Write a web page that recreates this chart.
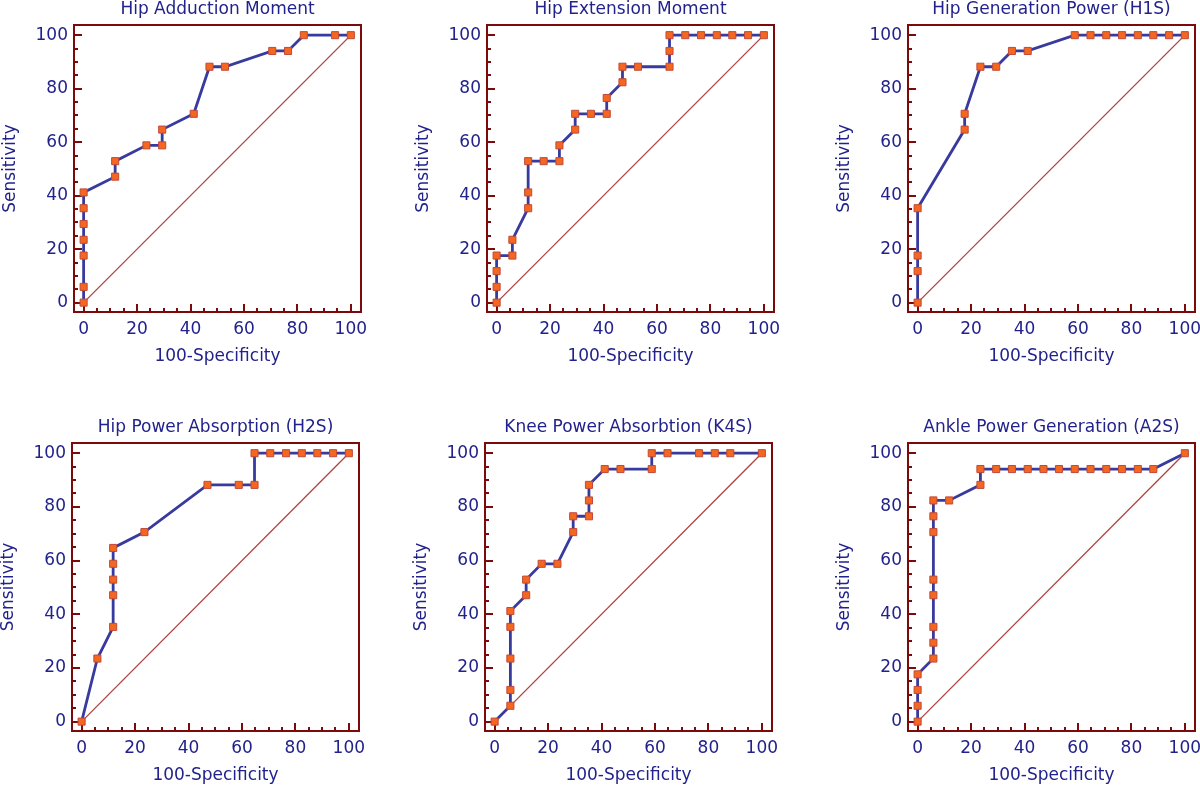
<!DOCTYPE html>
<html>
<head>
<meta charset="utf-8">
<script src="https://cdn.jsdelivr.net/npm/chart.js@4.4.0/dist/chart.umd.min.js"></script>
<style>
  html, body { margin: 0; padding: 0; background: #fff; overflow: hidden; width: 1200px; height: 787px; }
  .panel { position: absolute; }
</style>
</head>
<body>
<div id="wrap"></div>
<script>
// --- data (values in %, steps of 1/17) ---
const tickValues = [0, 20, 40, 60, 80, 100];
const diagonalX = [0, 100];
const diagonalY = [0, 100];

const titles = [
  'Hip Adduction Moment',
  'Hip Extension Moment',
  'Hip Generation Power (H1S)',
  'Hip Power Absorption (H2S)',
  'Knee Power Absorbtion (K4S)',
  'Ankle Power Generation (A2S)'
];

const adductionX = [0, 0, 0, 0, 0, 0, 0, 11.8, 11.8, 23.5, 29.4, 29.4, 41.2, 47.1, 52.9, 70.6, 76.5, 82.4, 94.1, 100];
const adductionY = [0, 5.9, 17.6, 23.5, 29.4, 35.3, 41.2, 47.1, 52.9, 58.8, 58.8, 64.7, 70.6, 88.2, 88.2, 94.1, 94.1, 100, 100, 100];

const extensionX = [0, 0, 0, 0, 5.9, 5.9, 11.8, 11.8, 11.8, 17.6, 23.5, 23.5, 29.4, 29.4, 35.3, 41.2, 41.2, 47.1, 47.1, 52.9, 64.7, 64.7, 64.7, 70.6, 76.5, 82.4, 88.2, 94.1, 100];
const extensionY = [0, 5.9, 11.8, 17.6, 17.6, 23.5, 35.3, 41.2, 52.9, 52.9, 52.9, 58.8, 64.7, 70.6, 70.6, 70.6, 76.5, 82.4, 88.2, 88.2, 88.2, 94.1, 100, 100, 100, 100, 100, 100, 100];

const h1sX = [0, 0, 0, 0, 17.6, 17.6, 23.5, 29.4, 35.3, 41.2, 58.8, 64.7, 70.6, 76.5, 82.4, 88.2, 94.1, 100];
const h1sY = [0, 11.8, 17.6, 35.3, 64.7, 70.6, 88.2, 88.2, 94.1, 94.1, 100, 100, 100, 100, 100, 100, 100, 100];

const h2sX = [0, 5.9, 11.8, 11.8, 11.8, 11.8, 11.8, 23.5, 47.1, 58.8, 64.7, 64.7, 70.6, 76.5, 82.4, 88.2, 94.1, 100];
const h2sY = [0, 23.5, 35.3, 47.1, 52.9, 58.8, 64.7, 70.6, 88.2, 88.2, 88.2, 100, 100, 100, 100, 100, 100, 100];

const k4sX = [0, 5.9, 5.9, 5.9, 5.9, 5.9, 11.8, 11.8, 17.6, 23.5, 29.4, 29.4, 35.3, 35.3, 35.3, 41.2, 47.1, 58.8, 58.8, 64.7, 76.5, 82.4, 88.2, 100];
const k4sY = [0, 5.9, 11.8, 23.5, 35.3, 41.2, 47.1, 52.9, 58.8, 58.8, 70.6, 76.5, 76.5, 82.4, 88.2, 94.1, 94.1, 94.1, 100, 100, 100, 100, 100, 100];

const a2sX = [0, 0, 0, 0, 5.9, 5.9, 5.9, 5.9, 5.9, 5.9, 5.9, 5.9, 11.8, 23.5, 23.5, 29.4, 35.3, 41.2, 47.1, 52.9, 58.8, 64.7, 70.6, 76.5, 82.4, 88.2, 100];
const a2sY = [0, 5.9, 11.8, 17.6, 23.5, 29.4, 35.3, 47.1, 52.9, 70.6, 76.5, 82.4, 82.4, 88.2, 94.1, 94.1, 94.1, 94.1, 94.1, 94.1, 94.1, 94.1, 94.1, 94.1, 94.1, 94.1, 100];

const seriesX = [adductionX, extensionX, h1sX, h2sX, k4sX, a2sX];
const seriesY = [adductionY, extensionY, h1sY, h2sY, k4sY, a2sY];

// --- layout / style ---
const TEXT = '#22228c';
const LINE = '#383a9e';
const FRAME = '#7d0a0a';
const DIAG = '#b04040';
const FONT = 'DejaVu Sans';
const boxLefts = [74, 487, 908, 72, 485, 908];
const rowTops = [0, 418];
const boxSize = [287, 288];
const AXIS_W = 74;
const TITLE_H = 25;
const XAXIS_H = 55;

function toPoints(xs, ys) {
  return xs.map((v, i) => ({ x: v, y: ys[i] }));
}

// box + inward tick marks
const framePlugin = {
  id: 'frame',
  beforeDatasetsDraw(chart) {
    const { ctx, chartArea: a, scales: { x, y } } = chart;
    ctx.save();
    ctx.strokeStyle = FRAME;
    ctx.lineWidth = 2;
    ctx.beginPath();
    for (let v = 0; v <= 100; v += 5) {
      const len = v % 20 === 0 ? 8 : 4;
      const px = Math.round(x.getPixelForValue(v));
      ctx.moveTo(px, a.bottom);
      ctx.lineTo(px, a.bottom - len);
      const py = Math.round(y.getPixelForValue(v));
      ctx.moveTo(a.left, py);
      ctx.lineTo(a.left + len, py);
    }
    ctx.stroke();
    ctx.strokeRect(a.left, a.top, a.right - a.left, a.bottom - a.top);
    ctx.restore();
  }
};

function fixedTicks(scale) {
  scale.ticks = tickValues.map(v => ({ value: v }));
}

const wrap = document.getElementById('wrap');

titles.forEach((title, i) => {
  const row = Math.floor(i / 3);
  const size = boxSize[row];
  const div = document.createElement('div');
  div.className = 'panel';
  div.style.left = (boxLefts[i] - AXIS_W) + 'px';
  div.style.top = rowTops[row] + 'px';
  const canvas = document.createElement('canvas');
  const w = 400, h = TITLE_H + size + XAXIS_H;
  canvas.width = w;
  canvas.height = h;
  canvas.style.width = w + 'px';
  canvas.style.height = h + 'px';
  div.appendChild(canvas);
  wrap.appendChild(div);

  new window.Chart(canvas.getContext('2d'), {
    type: 'scatter',
    data: {
      datasets: [
        {
          data: toPoints(seriesX[i], seriesY[i]),
          showLine: true,
          borderColor: LINE,
          borderWidth: 2.8,
          pointStyle: 'rect',
          pointRadius: 5,
          pointBorderWidth: 1,
          pointBackgroundColor: '#f5661e',
          pointBorderColor: '#c04a3a',
          tension: 0
        },
        {
          data: toPoints(diagonalX, diagonalY),
          showLine: true,
          borderColor: DIAG,
          borderWidth: 1.3,
          pointRadius: 0
        }
      ]
    },
    options: {
      responsive: false,
      animation: false,
      layout: { padding: { left: 0, right: w - AXIS_W - 287, top: 0, bottom: 0 } },
      plugins: {
        legend: { display: false },
        tooltip: { enabled: false },
        title: {
          display: true,
          text: title,
          fullSize: false,
          color: TEXT,
          font: { family: FONT, size: 17, weight: 'normal', lineHeight: 1 },
          padding: { top: 1, bottom: TITLE_H - 18 }
        }
      },
      scales: {
        x: {
          type: 'linear',
          min: -3.6, max: 103.8,
          afterBuildTicks: fixedTicks,
          afterFit(scale) { scale.height = XAXIS_H; scale.paddingLeft = 0; scale.paddingRight = 0; },
          grid: { display: false, drawTicks: false },
          border: { display: false },
          ticks: { color: TEXT, font: { family: FONT, size: 17 }, padding: 7, maxRotation: 0 },
          title: { display: true, text: '100-Specificity', color: TEXT, font: { family: FONT, size: 17, lineHeight: 1.2 }, padding: 0 }
        },
        y: {
          type: 'linear',
          min: -3.5, max: 103.8,
          afterBuildTicks: fixedTicks,
          afterFit(scale) { scale.width = AXIS_W; scale.paddingTop = 0; scale.paddingBottom = 0; },
          grid: { display: false, drawTicks: false },
          border: { display: false },
          ticks: { color: TEXT, font: { family: FONT, size: 17 }, padding: 6 },
          title: { display: true, text: 'Sensitivity', color: TEXT, font: { family: FONT, size: 17, lineHeight: 1.2 }, padding: 0 }
        }
      }
    },
    plugins: [framePlugin]
  });
});
</script>
</body>
</html>
